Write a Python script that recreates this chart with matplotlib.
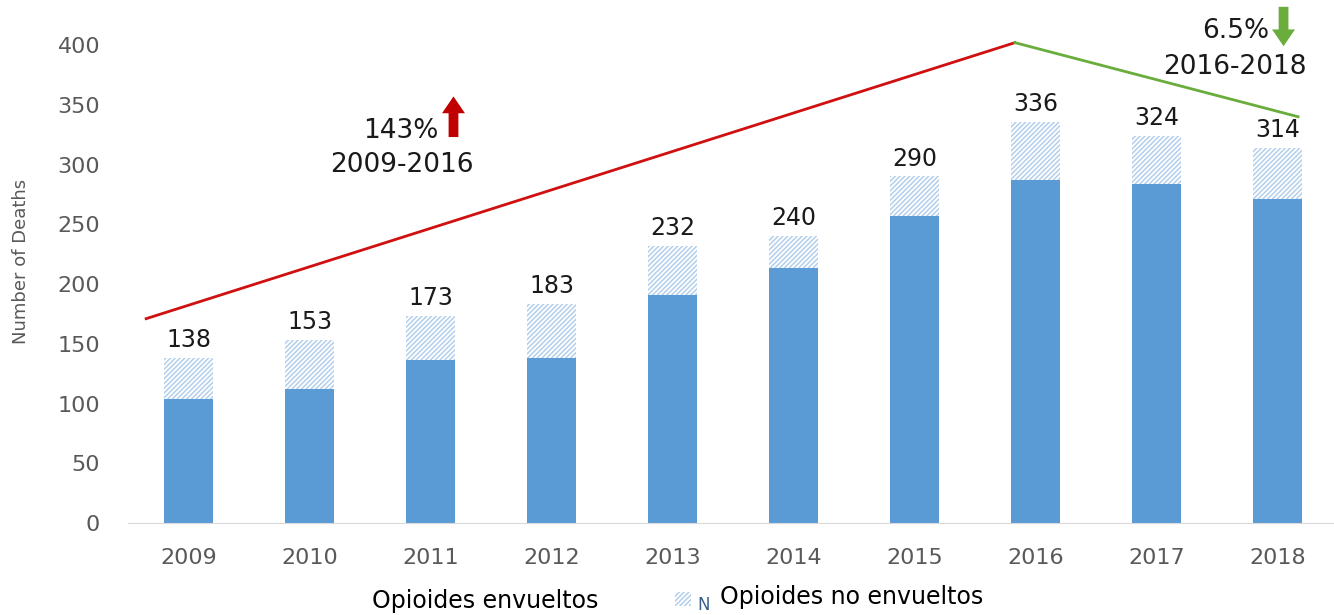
import matplotlib.pyplot as plt
import numpy as np
from matplotlib.patches import Rectangle

# Data
years = ["2009", "2010", "2011", "2012", "2013", "2014", "2015", "2016", "2017", "2018"]
totals = [138, 153, 173, 183, 232, 240, 290, 336, 324, 314]
involved = [104, 112, 136, 138, 191, 213, 257, 287, 284, 271]
not_involved = [t - i for t, i in zip(totals, involved)]

# Trend lines drawn over the bars (x in bar index units, y in deaths)
rise_x = [-0.35, 6.83]
rise_y = [171, 402]
fall_x = [6.83, 9.17]
fall_y = [402, 340]

SOLID = "#5b9bd5"
HATCH = "#b3cfec"
GREY = "#595959"
INK = "#1a1a1a"

plt.rcParams["hatch.linewidth"] = 1.1
plt.rcParams["hatch.color"] = HATCH

fig = plt.figure(figsize=(13.34, 6.15), dpi=100)
ax = fig.add_axes([128 / 1334, 92 / 615, 1206 / 1334, 523 / 615])

x = np.arange(len(years))
ax.bar(x, involved, width=0.41, color=SOLID, zorder=2)
ax.bar(x, not_involved, width=0.41, bottom=involved, color="white",
       edgecolor=HATCH, hatch="///////", linewidth=0, zorder=2)

for xi, t in zip(x, totals):
    ax.text(xi, t + 5, str(t), ha="center", va="bottom", fontsize=17, color=INK)

ax.plot(rise_x, rise_y, color="#d01010", linewidth=2, zorder=3)
ax.plot(fall_x, fall_y, color="#6aad3c", linewidth=2, zorder=3)

# Change annotations with arrows
arrow_style = "simple,head_width=0.75,head_length=0.55,tail_width=0.32"
ax.text(2.07, 328, "143%", ha="right", va="center", fontsize=19, color=INK)
ax.text(1.76, 300, "2009-2016", ha="center", va="center", fontsize=19, color=INK)
ax.annotate("", xy=(2.19, 357), xytext=(2.19, 323),
            arrowprops=dict(arrowstyle=arrow_style, mutation_scale=22,
                            color="#c00000", lw=0, shrinkA=0, shrinkB=0))
ax.text(8.93, 412, "6.5%", ha="right", va="center", fontsize=19, color=INK)
ax.text(8.65, 382, "2016-2018", ha="center", va="center", fontsize=19, color=INK)
ax.annotate("", xy=(9.05, 399), xytext=(9.05, 432),
            arrowprops=dict(arrowstyle=arrow_style, mutation_scale=22,
                            color="#6aad3c", lw=0, shrinkA=0, shrinkB=0))

ax.set_xlim(-0.5, -0.5 + 1206 / 121)
ax.set_ylim(0, 437.7)
ax.set_yticks(range(0, 401, 50))
ax.set_xticks(x)
ax.set_xticklabels(years)
ax.tick_params(axis="both", length=0, labelsize=16, colors=GREY)
ax.tick_params(axis="x", pad=18)
ax.tick_params(axis="y", pad=20)
for side in ["top", "right", "left"]:
    ax.spines[side].set_visible(False)
ax.spines["bottom"].set_color("#d9d9d9")
ax.set_ylabel("Number of Deaths", fontsize=13, color=GREY, labelpad=20)

# Legend-like captions at the bottom
fig.text(372 / 1334, 14 / 615, "Opioides envueltos", fontsize=17, color="black",
         ha="left", va="center")
fig.patches.append(Rectangle((675 / 1334, 9 / 615), 16 / 1334, 14 / 615,
                             transform=fig.transFigure, facecolor="white",
                             edgecolor=HATCH, hatch="///////", linewidth=0))
fig.text(697 / 1334, 10 / 615, "N", fontsize=12, color="#3a5f8a", ha="left", va="center")
fig.text(720 / 1334, 18 / 615, "Opioides no envueltos", fontsize=17, color="black",
         ha="left", va="center")

fig.savefig("out.png", dpi=100)
